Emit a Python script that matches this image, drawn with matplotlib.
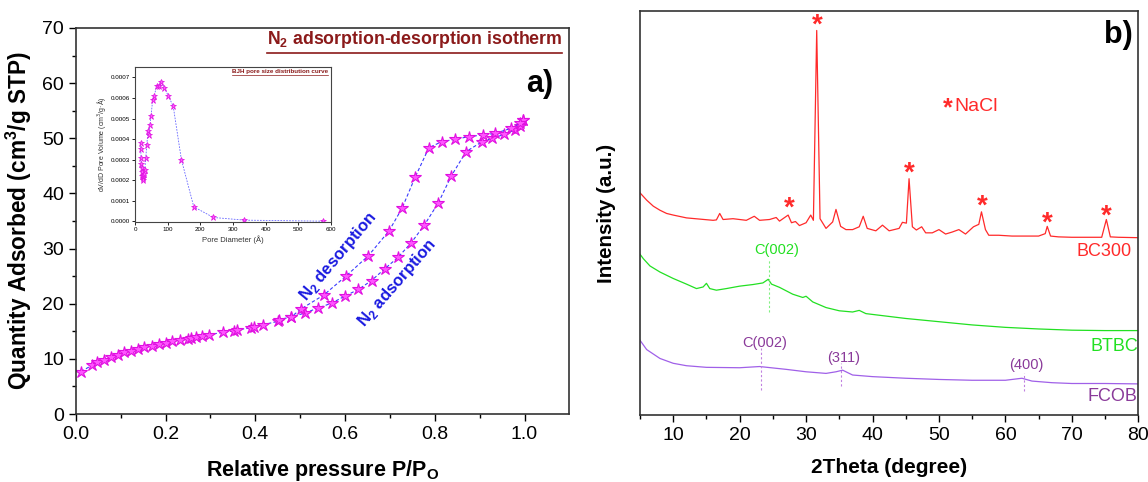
import numpy as np
import matplotlib.pyplot as plt
from matplotlib.lines import Line2D

plt.rcParams['font.family'] = ['Liberation Sans', 'DejaVu Sans']

# ---- panel a) N2 isotherm ----
p_ads = [0.012, 0.037, 0.047, 0.062, 0.079, 0.094, 0.108, 0.124, 0.138, 0.153,
         0.170, 0.186, 0.200, 0.215, 0.232, 0.249, 0.257, 0.269, 0.282, 0.298,
         0.327, 0.352, 0.360, 0.390, 0.398, 0.418, 0.450, 0.452, 0.480, 0.510,
         0.539, 0.570, 0.600, 0.630, 0.659, 0.688, 0.718, 0.748, 0.777, 0.808,
         0.837, 0.870, 0.906, 0.928, 0.955, 0.978, 0.990, 0.997]
q_ads = [7.7, 8.9, 9.5, 9.8, 10.3, 10.7, 11.2, 11.5, 11.8, 12.1,
         12.4, 12.7, 12.9, 13.2, 13.5, 13.6, 13.8, 13.9, 14.1, 14.4,
         14.8, 15.1, 15.3, 15.6, 15.8, 16.2, 16.8, 17.1, 17.6, 18.3,
         19.2, 20.1, 21.4, 22.6, 24.2, 26.3, 28.4, 31.1, 34.3, 38.3,
         43.2, 47.6, 49.4, 50.0, 50.7, 51.5, 52.2, 53.3]
p_des = [0.997, 0.990, 0.970, 0.935, 0.907, 0.876, 0.845, 0.816, 0.787, 0.756,
         0.727, 0.698, 0.652, 0.602, 0.553, 0.501, 0.480]
q_des = [53.3, 52.7, 51.8, 50.9, 50.6, 50.3, 49.8, 49.4, 48.3, 42.9,
         37.3, 33.2, 28.7, 25.0, 21.6, 19.0, 17.6]

# ---- inset: BJH pore size distribution ----
d_pore = [17, 17.5, 18.5, 19, 20, 21, 22, 23, 24, 25, 27, 30, 33, 36, 40, 43,
          46, 49, 54, 59, 66, 72, 79, 90, 102, 117, 142, 180, 240, 335, 575]
dv_pore = [0.00038, 0.00035, 0.00031, 0.00028, 0.00026, 0.00024, 0.00022,
           0.00021, 0.00020, 0.00022, 0.00023, 0.00025, 0.00031, 0.00037,
           0.00044, 0.00042, 0.00047, 0.00051, 0.00059, 0.00061, 0.00066,
           0.00066, 0.00068, 0.00065, 0.00061, 0.00056, 0.00030, 0.00007,
           0.000018, 0.000005, 0.0]

# ---- panel b) XRD ----
tt_bc = [5, 6, 7, 8, 9, 10, 12, 14, 16, 16.5, 17, 17.5, 19, 21, 22.2, 23, 24.5,
         25.5, 26, 27.3, 27.8, 28.4, 29, 30, 30.7, 31.1, 31.6, 32.1, 33, 34,
         34.5, 35.2, 36, 37, 38, 38.6, 39.2, 40.5, 41.5, 42.5, 44, 44.5, 45.1,
         45.5, 46, 46.6, 47.4, 48, 49, 50, 51, 52, 53, 54, 55.2, 56, 56.4, 57,
         57.5, 59, 61, 63, 65, 66, 66.3, 66.8, 68, 70, 72, 74.5, 75.2, 75.8,
         77, 80]
i_bc = [55.0, 53.2, 51.7, 50.7, 49.9, 49.5, 48.8, 48.5, 48.2, 48.3, 49.9, 48.4,
        48.6, 48.2, 49.2, 48.2, 48.4, 48.9, 48.0, 49.5, 47.6, 47.9, 46.9, 47.6,
        49.5, 48.2, 95.2, 48.6, 46.2, 47.8, 50.9, 46.7, 45.9, 45.9, 46.6, 49.2,
        46.2, 45.6, 47.0, 45.6, 46.2, 47.7, 47.5, 58.5, 46.6, 45.8, 46.6, 45.1,
        45.1, 45.9, 44.8, 45.3, 45.9, 44.8, 46.6, 47.2, 50.3, 45.9, 44.5, 44.5,
        44.3, 44.3, 44.3, 44.9, 46.7, 44.3, 44.1, 44.0, 44.0, 44.0, 48.4, 44.1,
        44.0, 43.9]
tt_bt = [5, 5.5, 6.5, 8, 10, 12, 13.5, 14.5, 15, 15.5, 16.5, 18, 20, 22, 23.5,
         24.3, 24.8, 26, 28, 29.5, 30, 31, 33, 35, 37, 38, 39, 42, 45, 50, 55,
         60, 65, 70, 75, 80]
i_bt = [39.8, 38.7, 36.9, 35.4, 33.8, 32.4, 31.3, 31.7, 32.6, 31.3, 30.9, 31.3,
        31.9, 32.3, 32.7, 33.6, 32.4, 31.6, 29.9, 29.1, 29.4, 28.0, 26.6, 25.8,
        25.5, 25.9, 25.1, 24.5, 23.9, 23.1, 22.3, 21.7, 21.3, 21.0, 20.9, 20.9]
tt_fc = [5, 6, 7, 8, 10, 12, 15, 20, 23, 27, 30, 33, 34.5, 35.5, 37, 40, 45,
         50, 55, 60, 62.5, 64, 67, 70, 75, 80]
i_fc = [18.5, 16.2, 15.1, 14.0, 12.8, 12.2, 11.8, 11.7, 12.0, 11.3, 10.7, 10.3,
        10.7, 11.1, 9.9, 9.5, 9.1, 8.8, 8.6, 8.6, 9.1, 8.4, 8.0, 7.8, 7.8, 7.7]

nacl_tt = [27.5, 31.7, 45.5, 56.5, 66.3, 75.2]
nacl_i = [51.0, 96.5, 59.8, 51.6, 47.3, 49.1]

fig = plt.figure(figsize=(11.48, 4.82), dpi=100)

# ================= panel a =================
ax = fig.add_axes([0.066, 0.141, 0.430, 0.801])
ax.plot(p_ads, q_ads, ls=(0, (3, 2)), lw=0.8, color='#3a3aff', marker='*',
        ms=9, mfc='#ff55ff', mec='#e010e0', mew=0.8)
ax.plot(p_des, q_des, ls=(0, (3, 2)), lw=0.8, color='#3a3aff', marker='*',
        ms=9, mfc='#ff55ff', mec='#e010e0', mew=0.8)
ax.set_xlim(0, 1.1)
ax.set_ylim(0, 70)
ax.set_xticks([0.0, 0.2, 0.4, 0.6, 0.8, 1.0])
ax.set_xticks(np.arange(0.1, 1.1, 0.2), minor=True)
ax.set_yticks(range(0, 71, 10))
ax.set_yticks(range(5, 70, 10), minor=True)
ax.tick_params(which='both', direction='out', labelsize=14, width=1)
ax.tick_params(which='major', length=5)
ax.tick_params(which='minor', length=3)
for s in ax.spines.values():
    s.set_linewidth(1.2)
    s.set_color('#333333')
ax.set_xlabel('Relative pressure P/P$_\\mathregular{O}$', fontsize=15.5,
              fontweight='bold', labelpad=11)
ax.set_ylabel('Quantity Adsorbed (cm$^\\mathregular{3}$/g STP)', fontsize=16.3,
              fontweight='bold', labelpad=6)

ttl = ax.text(0.986, 0.958, 'N$_\\mathregular{2}$ adsorption-desorption isotherm',
              transform=ax.transAxes, ha='right', va='baseline', fontsize=12.8,
              fontweight='bold', color='#8b1a1a')
ax.text(0.967, 0.835, 'a)', transform=ax.transAxes, ha='right', fontsize=22,
        fontweight='bold')
ax.text(0.585, 28.5, 'N$_\\mathregular{2}$ desorption', rotation=50, ha='center',
        va='center', fontsize=12, fontweight='bold', color='#1a1ae0')
ax.text(0.715, 23.8, 'N$_\\mathregular{2}$ adsorption', rotation=49, ha='center',
        va='center', fontsize=12, fontweight='bold', color='#1a1ae0')

# ================= inset =================
axi = fig.add_axes([0.1176, 0.539, 0.1707, 0.3216])
axi.plot(d_pore, dv_pore, ls=(0, (2, 1.5)), lw=0.6, color='#6666ff', marker='*',
         ms=5, mfc='#ff55ff', mec='#e010e0', mew=0.5)
axi.set_xlim(0, 600)
axi.set_ylim(-0.000005, 0.00075)
axi.set_xticks(range(0, 601, 100))
axi.set_yticks(np.arange(0, 0.00071, 0.0001))
axi.set_yticklabels(['%.4f' % v for v in np.arange(0, 0.00071, 0.0001)])
axi.tick_params(labelsize=4.5, length=2, width=0.6, pad=1.5)
for s in axi.spines.values():
    s.set_linewidth(0.8)
    s.set_color('#444444')
axi.set_xlabel('Pore Diameter (Å)', fontsize=5.5, labelpad=2, color='#333333')
axi.set_ylabel('dV/dD Pore Volume (cm$^3$/g·Å)', fontsize=5, labelpad=2, color='#333333')
ttl2 = axi.text(0.985, 0.965, 'BJH pore size distribution curve', transform=axi.transAxes,
                ha='right', va='baseline', fontsize=4.5, fontweight='bold', color='#8b1a1a')

# ================= panel b =================
bx = fig.add_axes([0.5575, 0.139, 0.434, 0.838])
bx.plot(tt_bc, i_bc, color='#ff2a2a', lw=0.9)
bx.plot(tt_bt, i_bt, color='#22e022', lw=0.9)
bx.plot(tt_fc, i_fc, color='#a060e8', lw=0.9)
bx.set_xlim(5, 80)
bx.set_ylim(0, 100)
bx.set_xticks(range(10, 81, 10))
bx.set_xticks(range(5, 80, 10), minor=True)
bx.set_yticks([])
bx.tick_params(which='both', direction='out', labelsize=14, width=1)
bx.tick_params(which='major', length=5)
bx.tick_params(which='minor', length=3)
for s in bx.spines.values():
    s.set_linewidth(1.2)
    s.set_color('#333333')
bx.set_xlabel('2Theta (degree)', fontsize=15, fontweight='bold', labelpad=10)
bx.set_ylabel('Intensity (a.u.)', fontsize=14.8, fontweight='bold', labelpad=17)

for t, v in zip(nacl_tt, nacl_i):
    bx.text(t, v, '*', ha='center', va='center', fontsize=20, fontweight='bold',
            color='#ff2a2a')
bx.text(51.3, 76.0, '*', ha='center', va='center', fontsize=18, fontweight='bold',
        color='#ff2a2a')
bx.text(52.3, 76.4, 'NaCl', ha='left', va='center', fontsize=14, color='#ff2a2a')
bx.text(77.0, 94.0, 'b)', ha='center', va='center', fontsize=22, fontweight='bold')

bx.text(79.0, 40.4, 'BC300', ha='right', va='center', fontsize=13, color='#ff2a2a')
bx.text(80.0, 16.9, 'BTBC', ha='right', va='center', fontsize=13, color='#22e022')
bx.text(79.8, 4.5, 'FCOB', ha='right', va='center', fontsize=13, color='#8a3a9a')

bx.text(25.5, 40.8, 'C(002)', ha='center', va='center', fontsize=10.5, color='#22e022')
bx.plot([24.4, 24.4], [25.6, 38.3], ls=(0, (2, 2)), lw=0.8, color='#80f080')
bx.text(23.7, 17.9, 'C(002)', ha='center', va='center', fontsize=10.5, color='#8a3a9a')
bx.plot([23.2, 23.2], [6.3, 16.5], ls=(0, (2, 2)), lw=0.8, color='#c080e0')
bx.text(35.7, 14.0, '(311)', ha='center', va='center', fontsize=10.5, color='#8a3a9a')
bx.plot([35.3, 35.3], [7.2, 12.9], ls=(0, (2, 2)), lw=0.8, color='#c080e0')
bx.text(63.2, 12.4, '(400)', ha='center', va='center', fontsize=10.5, color='#8a3a9a')
bx.plot([62.8, 62.8], [6.0, 10.3], ls=(0, (2, 2)), lw=0.8, color='#c080e0')

# underline the two red titles
fig.canvas.draw()
rend = fig.canvas.get_renderer()
for txt, a, off, lw in [(ttl, ax, 3, 1.2), (ttl2, axi, 1.2, 0.5)]:
    bb = txt.get_window_extent(renderer=rend)
    inv = a.transAxes.inverted()
    (x0, y0), (x1, _) = inv.transform([[bb.x0, bb.y0 - off], [bb.x1, bb.y0]])
    a.add_line(Line2D([x0, x1], [y0, y0], transform=a.transAxes, color='#8b1a1a',
                      lw=lw, clip_on=False))

fig.savefig('out.png', dpi=100)
